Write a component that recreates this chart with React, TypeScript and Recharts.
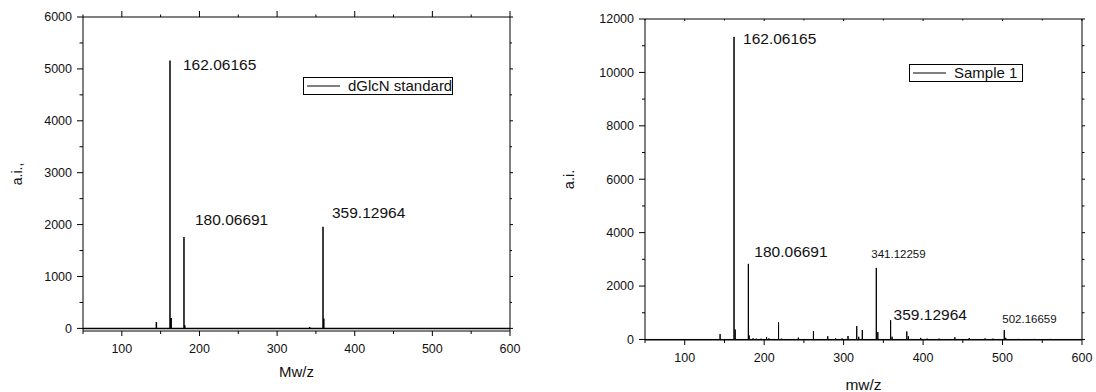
import React from 'react';
import { LineChart, Line, XAxis, YAxis, ReferenceDot, Legend, Label } from 'recharts';

// shared x axis (m/z)
const mzTicks = [50, 100, 150, 200, 250, 300, 350, 400, 450, 500, 550, 600];
const mzMajor = [100, 200, 300, 400, 500, 600];

// left panel: dGlcN standard
const stdMz = [144.5, 162.06165, 163.6, 180.06691, 181.1, 342.0, 359.12964, 360.2];
const stdAi = [124, 5160, 200, 1760, 60, 25, 1960, 190];
const stdYTicks = [0, 500, 1000, 1500, 2000, 2500, 3000, 3500, 4000, 4500, 5000, 5500, 6000];
const stdYMajor = [0, 1000, 2000, 3000, 4000, 5000, 6000];
const stdLabelMz = [162.06165, 180.06691, 359.12964];
const stdLabelText = ['162.06165', '180.06691', '359.12964'];

// right panel: Sample 1
const smpMz = [
  144.5, 162.06165, 163.5, 180.06691, 181.1, 186, 190, 196, 203, 206, 218.08, 222, 243,
  262, 280, 290, 298, 305.5, 316.5, 319, 323.5, 341.12259, 343, 359.12964, 361,
  379.5, 381.5, 397, 405, 420, 440, 458, 478, 488, 502.16659, 504, 520, 540, 560,
];
const smpAi = [
  200, 11330, 370, 2830, 150, 40, 30, 30, 90, 40, 640, 30, 70,
  310, 120, 40, 40, 130, 500, 100, 350, 2680, 280, 720, 100,
  300, 120, 60, 30, 30, 80, 50, 40, 30, 350, 60, 20, 20, 20,
];
const smpYTicks = [0, 1000, 2000, 3000, 4000, 5000, 6000, 7000, 8000, 9000, 10000, 11000, 12000];
const smpYMajor = [0, 2000, 4000, 6000, 8000, 10000, 12000];
const smpLabelMz = [162.06165, 180.06691, 341.12259, 359.12964, 502.16659];
const smpLabelText = ['162.06165', '180.06691', '341.12259', '359.12964', '502.16659'];

// label placement relative to the peak apex (styling, not data)
const stdLabelPos = [
  { dx: 13, dy: 4, size: 15.5 },
  { dx: 11, dy: -17, size: 15.5 },
  { dx: 9, dy: -14, size: 15.5 },
];
const smpLabelPos = [
  { dx: 9, dy: 2, size: 15.5 },
  { dx: 6, dy: -12, size: 15.5 },
  { dx: -5, dy: -13.5, size: 11.5 },
  { dx: 3, dy: -6, size: 15.5 },
  { dx: -2, dy: -11.5, size: 11.5 },
];

const INK = '#111';

// stick spectrum: each peak goes up from the baseline and back down
function sticks(mz: number[], ai: number[]) {
  const pts = [{ mz: 50, ai: 0 }];
  mz.forEach((m, i) => {
    pts.push({ mz: m, ai: 0 }, { mz: m, ai: ai[i] }, { mz: m, ai: 0 });
  });
  pts.push({ mz: 600, ai: 0 });
  return pts;
}

type Side = 'left' | 'right' | 'top' | 'bottom';

function axisTick(side: Side, majors: number[], o: { label?: boolean; out?: boolean; major: number; minor: number; gap?: number }) {
  return (p: any) => {
    const v = Number(p.payload?.value);
    const isMajor = majors.includes(v);
    const len = isMajor ? o.major : o.minor;
    const dir = o.out === false ? -1 : 1;
    const x = p.x;
    const y = p.y;
    let x2 = x;
    let y2 = y;
    if (side === 'left') x2 = x - dir * len;
    if (side === 'right') x2 = x + dir * len;
    if (side === 'top') y2 = y - dir * len;
    if (side === 'bottom') y2 = y + dir * len;
    let txt = null;
    if (o.label && isMajor) {
      if (side === 'left') {
        txt = (
          <text x={x - (o.gap ?? 11)} y={y} dy="0.35em" textAnchor="end" fontSize={12.5} fill={INK}>
            {v}
          </text>
        );
      } else {
        txt = (
          <text x={x} y={y + (o.gap ?? 13)} dy="0.71em" textAnchor="middle" fontSize={12.5} fill={INK}>
            {v}
          </text>
        );
      }
    }
    return (
      <g>
        <line x1={x} y1={y} x2={x2} y2={y2} stroke="#000" strokeWidth={1} />
        {txt}
      </g>
    );
  };
}

function peakLabel(text: string, pos: { dx: number; dy: number; size: number }) {
  return (p: any) => {
    const vb = p.viewBox || {};
    const x = (vb.x ?? 0) + (vb.width ?? 0) / 2;
    const y = (vb.y ?? 0) + (vb.height ?? 0) / 2;
    return (
      <text x={x + pos.dx} y={y + pos.dy} dy="0.35em" fontSize={pos.size} fill={INK}>
        {text}
      </text>
    );
  };
}

function legendBox(width: number, padRight: number) {
  return (p: any) => {
    const item = p.payload && p.payload[0];
    return (
      <div
        style={{
          boxSizing: 'border-box',
          width,
          height: 18,
          border: '1px solid #000',
          background: '#fff',
          display: 'flex',
          alignItems: 'center',
          paddingLeft: 3,
          paddingRight: padRight,
          fontSize: 15,
          lineHeight: '16px',
          color: INK,
          whiteSpace: 'nowrap',
        }}
      >
        <svg width={41} height={10} style={{ flex: 'none' }}>
          <line x1={0} y1={5} x2={33} y2={5} stroke="#000" strokeWidth={1} />
        </svg>
        <span>{item ? item.value : ''}</span>
      </div>
    );
  };
}

function StdPanel() {
  const data = sticks(stdMz, stdAi);
  return (
    <LineChart width={540} height={392} data={data} margin={{ top: 16, right: 29, left: 0, bottom: 0 }}>
      <XAxis
        xAxisId="b"
        type="number"
        dataKey="mz"
        domain={[50, 600]}
        ticks={mzTicks}
        interval={0}
        height={61}
        tickSize={0}
        tickMargin={0}
        tickLine={false}
        stroke="#000"
        tick={axisTick('bottom', mzMajor, { label: true, major: 5, minor: 3, gap: 13 })}
        allowDataOverflow
      >
        <Label value="Mw/z" position="insideBottom" offset={15} fontSize={15} fill={INK} />
      </XAxis>
      <XAxis
        xAxisId="t"
        orientation="top"
        type="number"
        dataKey="mz"
        domain={[50, 600]}
        ticks={mzTicks}
        interval={0}
        height={1}
        tickSize={0}
        tickMargin={0}
        tickLine={false}
        stroke="#000"
        tick={axisTick('top', mzMajor, { major: 6, minor: 2.5 })}
        allowDataOverflow
      />
      <YAxis
        yAxisId="l"
        type="number"
        domain={[-50, 6000]}
        ticks={stdYTicks}
        interval={0}
        width={83}
        tickSize={0}
        tickMargin={0}
        tickLine={false}
        stroke="#000"
        tick={axisTick('left', stdYMajor, { label: true, major: 6, minor: 3.5, gap: 11 })}
        allowDataOverflow
      >
        <Label value="a.i.," angle={-90} position="insideLeft" offset={17} fontSize={14} fill={INK} style={{ textAnchor: 'middle' }} />
      </YAxis>
      <YAxis
        yAxisId="r"
        orientation="right"
        type="number"
        domain={[-50, 6000]}
        ticks={stdYTicks}
        interval={0}
        width={1}
        tickSize={0}
        tickMargin={0}
        tickLine={false}
        stroke="#000"
        tick={axisTick('right', stdYMajor, { major: 3, minor: 2 })}
        allowDataOverflow
      />
      <Legend
        layout="vertical"
        align="center"
        verticalAlign="middle"
        wrapperStyle={{ left: 303, top: 77, width: 150, height: 18 }}
        content={legendBox(150, 1)}
      />
      <Line
        xAxisId="b"
        yAxisId="l"
        type="linear"
        dataKey="ai"
        name="dGlcN standard"
        stroke="#000"
        strokeWidth={1.5}
        dot={false}
        activeDot={false}
        isAnimationActive={false}
      />
      {stdLabelMz.map((m, i) => (
        <ReferenceDot
          key={m}
          xAxisId="b"
          yAxisId="l"
          x={m}
          y={stdAi[stdMz.indexOf(m)]}
          r={0}
          stroke="none"
          fill="none"
          label={peakLabel(stdLabelText[i], stdLabelPos[i])}
        />
      ))}
    </LineChart>
  );
}

function SamplePanel() {
  const data = sticks(smpMz, smpAi);
  return (
    <LineChart width={556} height={392} data={data} margin={{ top: 18, right: 13, left: 0, bottom: 0 }}>
      <XAxis
        xAxisId="b"
        type="number"
        dataKey="mz"
        domain={[50, 600]}
        ticks={mzTicks}
        interval={0}
        height={52}
        tickSize={0}
        tickMargin={0}
        tickLine={false}
        stroke="#000"
        tick={axisTick('bottom', mzMajor, { label: true, major: 5, minor: 3, gap: 13 })}
        allowDataOverflow
      >
        <Label value="mw/z" position="insideBottom" offset={2} fontSize={15.5} fill={INK} />
      </XAxis>
      <XAxis
        xAxisId="t"
        orientation="top"
        type="number"
        dataKey="mz"
        domain={[50, 600]}
        ticks={mzTicks}
        interval={0}
        height={1}
        tickSize={0}
        tickMargin={0}
        tickLine={false}
        stroke="#000"
        tick={axisTick('top', mzMajor, { out: false, major: 2, minor: 1.5 })}
        allowDataOverflow
      />
      <YAxis
        yAxisId="l"
        type="number"
        domain={[-20, 12000]}
        ticks={smpYTicks}
        interval={0}
        width={105}
        tickSize={0}
        tickMargin={0}
        tickLine={false}
        stroke="#000"
        tick={axisTick('left', smpYMajor, { label: true, major: 6, minor: 3, gap: 11 })}
        allowDataOverflow
      >
        <Label value="a.i." angle={-90} position="insideLeft" offset={29} fontSize={14.5} fill={INK} style={{ textAnchor: 'middle' }} />
      </YAxis>
      <YAxis
        yAxisId="r"
        orientation="right"
        type="number"
        domain={[-20, 12000]}
        ticks={smpYTicks}
        interval={0}
        width={1}
        tickSize={0}
        tickMargin={0}
        tickLine={false}
        stroke="#000"
        tick={axisTick('right', smpYMajor, { major: 3, minor: 2.5 })}
        allowDataOverflow
      />
      <Legend
        layout="vertical"
        align="center"
        verticalAlign="middle"
        wrapperStyle={{ left: 369, top: 64, width: 114, height: 18 }}
        content={legendBox(114, 8)}
      />
      <Line
        xAxisId="b"
        yAxisId="l"
        type="linear"
        dataKey="ai"
        name="Sample 1"
        stroke="#000"
        strokeWidth={1}
        dot={false}
        activeDot={false}
        isAnimationActive={false}
      />
      {smpLabelMz.map((m, i) => (
        <ReferenceDot
          key={m}
          xAxisId="b"
          yAxisId="l"
          x={m}
          y={smpAi[smpMz.indexOf(m)]}
          r={0}
          stroke="none"
          fill="none"
          label={peakLabel(smpLabelText[i], smpLabelPos[i])}
        />
      ))}
    </LineChart>
  );
}

export default function App() {
  return (
    <div
      style={{
        position: 'absolute',
        left: 0,
        top: 0,
        width: 1096,
        height: 392,
        background: '#fff',
        fontFamily: '"Liberation Sans", Arial, sans-serif',
      }}
    >
      <div style={{ position: 'absolute', left: 0, top: 0 }}>
        <StdPanel />
      </div>
      <div style={{ position: 'absolute', left: 540, top: 0 }}>
        <SamplePanel />
      </div>
    </div>
  );
}
